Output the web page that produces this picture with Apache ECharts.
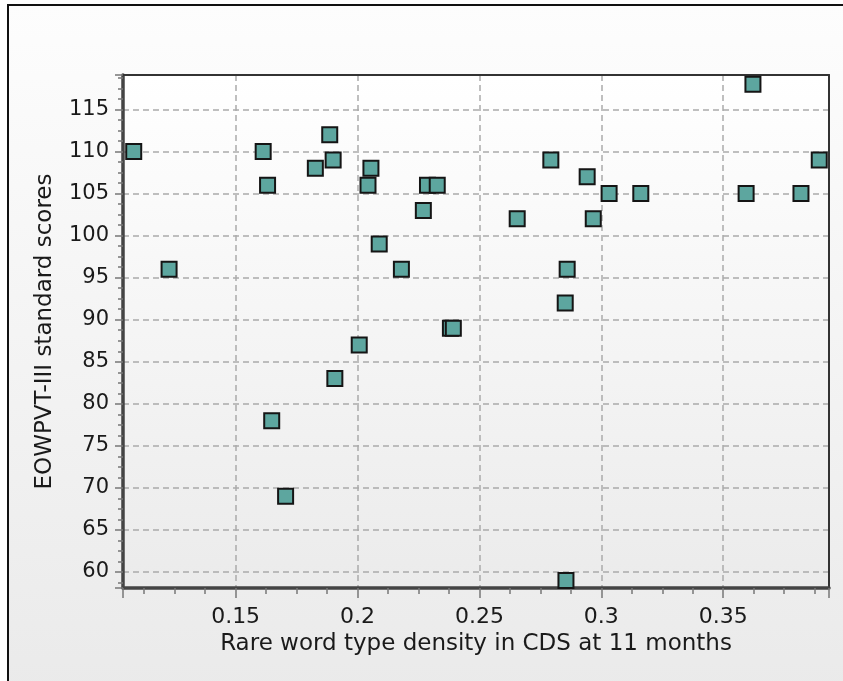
<!DOCTYPE html>
<html>
<head>
<meta charset="utf-8">
<script src="https://cdn.jsdelivr.net/npm/echarts@6/dist/echarts.min.js"></script>
<style>
  html, body { margin: 0; padding: 0; background: #fff; }
  #chart { width: 843px; height: 681px; }
</style>
</head>
<body>
<div id="chart"></div>
<script>
// rare word type density (x) vs EOWPVT-III score (y)
const density = [
  0.1082, 0.1227, 0.1613, 0.1631, 0.1648, 0.1705, 0.1827, 0.1886, 0.1900, 0.1907,
  0.2007, 0.2043, 0.2055, 0.2089, 0.2180, 0.2270, 0.2287, 0.2327, 0.2381, 0.2393,
  0.2655, 0.2793, 0.2852, 0.2855, 0.2860, 0.2942, 0.2967, 0.3032, 0.3162, 0.3594,
  0.3622, 0.3819, 0.3894
]
const scores = [
  110, 96, 110, 106, 78, 69, 108, 112, 109, 83,
  87, 106, 108, 99, 96, 103, 106, 106, 89, 89,
  102, 109, 92, 59, 96, 107, 102, 105, 105, 105,
  118, 105, 109
]

const xRange = [0.1038, 0.3934]
const yRange = [58.1, 119.1]

const font = 'Tahoma, Verdana, "DejaVu Sans", sans-serif'

const chart = echarts.init(document.getElementById('chart'))

const gridLine = { show: true, lineStyle: { color: '#ababab', width: 1.5, type: [6, 4] } }

// plain axis used only to draw the solid top / right frame of the plot
const frameAxis = (extra) => Object.assign({
  type: 'value',
  axisLine: { show: true, onZero: false, lineStyle: { color: '#333', width: 2 } },
  axisTick: { show: false },
  axisLabel: { show: false },
  splitLine: { show: false }
}, extra)

chart.setOption({
  animation: false,
  graphic: [
    {
      type: 'rect',
      z: -10,
      shape: { x: 8, y: 5, width: 900, height: 800 },
      style: {
        fill: new echarts.graphic.LinearGradient(0, 0, 0, 1, [
          { offset: 0, color: '#fdfdfd' },
          { offset: 1, color: '#e7e7e7' }
        ]),
        stroke: '#111',
        lineWidth: 2
      }
    }
  ],
  grid: {
    left: 123, top: 75, right: 14, bottom: 93,
    show: true,
    borderWidth: 0,
    backgroundColor: new echarts.graphic.LinearGradient(0, 0, 0, 1, [
      { offset: 0, color: '#ffffff' },
      { offset: 1, color: '#ebebeb' }
    ])
  },
  xAxis: [
    {
      type: 'value',
      min: xRange[0],
      max: xRange[1],
      splitNumber: 5,
      name: 'Rare word type density in CDS at 11 months',
      nameLocation: 'middle',
      nameGap: 44,
      nameTextStyle: { fontFamily: font, fontSize: 23, color: '#1a1a1a' },
      axisLine: { lineStyle: { color: '#444', width: 3.5 } },
      axisTick: { show: true, length: 10, lineStyle: { color: '#777', width: 1.5 } },
      minorTick: { show: true, splitNumber: 4, length: 6, lineStyle: { color: '#777', width: 1.5 } },
      axisLabel: {
        fontFamily: font, fontSize: 22, color: '#1a1a1a', margin: 18,
        showMinLabel: false, showMaxLabel: false
      },
      splitLine: gridLine
    },
    frameAxis({ position: 'top', min: xRange[0], max: xRange[1] })
  ],
  yAxis: [
    {
      type: 'value',
      min: yRange[0],
      max: yRange[1],
      splitNumber: 12,
      name: 'EOWPVT-III standard scores',
      nameLocation: 'middle',
      nameGap: 66,
      nameTextStyle: { fontFamily: font, fontSize: 23, color: '#1a1a1a' },
      axisLine: { show: true, lineStyle: { color: '#444', width: 3.5 } },
      axisTick: { show: true, length: 8, lineStyle: { color: '#777', width: 1.5 } },
      minorTick: { show: true, splitNumber: 4, length: 5, lineStyle: { color: '#777', width: 1.5 } },
      axisLabel: {
        fontFamily: font, fontSize: 21, color: '#1a1a1a', margin: 14,
        showMinLabel: false, showMaxLabel: false
      },
      splitLine: gridLine
    },
    frameAxis({ position: 'right', min: yRange[0], max: yRange[1] })
  ],
  series: [
    {
      type: 'scatter',
      symbol: 'rect',
      symbolSize: 15,
      clip: false,
      z: 5,
      data: density.map((d, i) => [d, scores[i]]),
      itemStyle: { color: '#5da69f', borderColor: '#151515', borderWidth: 2, opacity: 1 }
    }
  ]
})
</script>
</body>
</html>
